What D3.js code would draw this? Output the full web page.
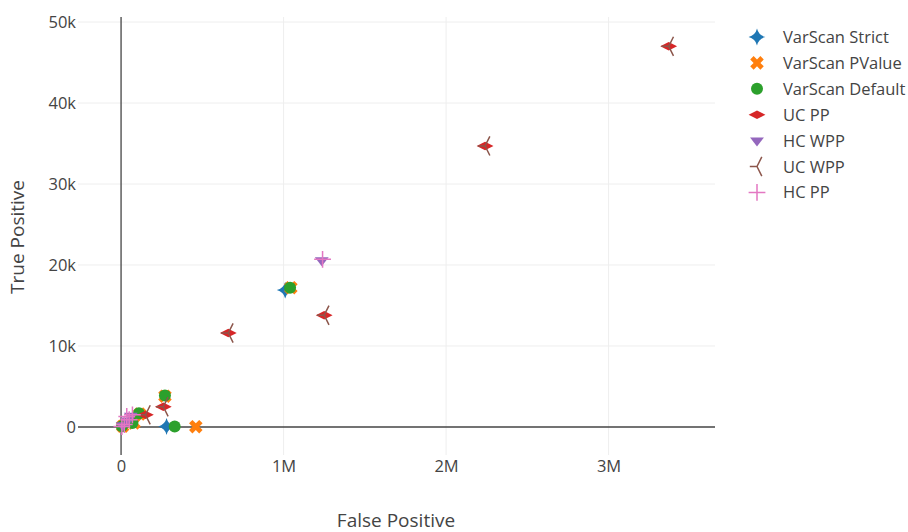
<!DOCTYPE html>
<html>
<head>
<meta charset="utf-8">
<script src="https://cdn.jsdelivr.net/npm/d3@7"></script>
<style>
  html, body { margin: 0; padding: 0; background: #fff; }
  svg { display: block; font-family: "Open Sans", "DejaVu Sans", sans-serif; }
</style>
</head>
<body>
<svg id="chart" width="908" height="532"></svg>
<script>
// Series: false positives vs true positives for each caller configuration
const seriesNames = ["VarScan Strict", "VarScan PValue", "VarScan Default", "UC PP", "HC WPP", "UC WPP", "HC PP"];
const seriesColors = ["#1f77b4", "#ff7f0e", "#2ca02c", "#d62728", "#9467bd", "#8c564b", "#e377c2"];
const seriesSymbols = ["star-diamond", "x", "circle", "diamond-wide", "triangle-down", "tri-left", "cross-thin"];

const varscanStrictFP = [1010000, 280000, 20000, 60000, 90000];
const varscanStrictTP = [16900, 60, 300, 700, 1100];
const varscanPvalueFP = [1045000, 460000, 270000, 10000, 80000, 115000];
const varscanPvalueTP = [17200, 30, 3800, 100, 500, 1600];
const varscanDefaultFP = [1040000, 330000, 270000, 5000, 70000, 110000];
const varscanDefaultTP = [17200, 50, 3900, 80, 500, 1700];
const ucPpFP = [3370000, 2240000, 1250000, 660000, 260000, 150000];
const ucPpTP = [47000, 34700, 13800, 11600, 2500, 1500];
const hcWppFP = [1235000, 40000, 60000, 10000];
const hcWppTP = [20600, 800, 1400, 200];
const ucWppFP = [3370000, 2240000, 1250000, 660000, 260000, 150000];
const ucWppTP = [47000, 34700, 13800, 11600, 2500, 1500];
const hcPpFP = [1240000, 50000, 70000, 20000, 5000, 35000];
const hcPpTP = [20700, 900, 1500, 300, 50, 1300];

const xTicks = [0, 1e6, 2e6, 3e6];
const xTickLabels = ["0", "1M", "2M", "3M"];
const yTicks = [0, 10000, 20000, 30000, 40000, 50000];
const yTickLabels = ["0", "10k", "20k", "30k", "40k", "50k"];

const seriesFP = [varscanStrictFP, varscanPvalueFP, varscanDefaultFP, ucPpFP, hcWppFP, ucWppFP, hcPpFP];
const seriesTP = [varscanStrictTP, varscanPvalueTP, varscanDefaultTP, ucPpTP, hcWppTP, ucWppTP, hcPpTP];

const series = seriesNames.map((name, i) => ({
  name, color: seriesColors[i], symbol: seriesSymbols[i],
  points: seriesFP[i].map((fp, j) => ({ fp, tp: seriesTP[i][j] }))
}));

const r2 = v => Math.round(v * 100) / 100;
// Marker shapes, r = half of the marker size
const symbolPath = {
  "star-diamond": r => {
    const rc = r2(r * 1.4), a = r2(r * 1.9);
    const b = ` A ${a},${a} 0 0 1 `;
    return `M-${rc},0${b}0,${rc}${b}${rc},0${b}0,-${rc}${b}-${rc},0Z`;
  },
  "x": r => {
    const rx = r2(r * 0.8 / Math.SQRT2);
    const ne = `l${rx},${rx}`, se = `l${rx},-${rx}`, sw = `l-${rx},-${rx}`, nw = `l-${rx},${rx}`;
    return `M0,${rx}` + ne + se + sw + se + sw + nw + sw + nw + ne + nw + ne + "Z";
  },
  "circle": r => {
    const rs = r2(r);
    return `M${rs},0A${rs},${rs} 0 1,1 0,-${rs}A${rs},${rs} 0 0,1 ${rs},0Z`;
  },
  "diamond-wide": r => {
    const rt = r2(r * 1.4), rs = r2(r * 0.7);
    return `M0,${rs}L${rt},0L0,-${rs}L-${rt},0Z`;
  },
  "triangle-down": r => {
    const rt = r2(r * 2 / Math.sqrt(3)), h = r2(r / 2), rs = r2(r);
    return `M-${rt},-${h}H${rt}L0,${rs}Z`;
  },
  "tri-left": r => {
    const a = r2(r * 1.2), b = r2(r * 1.6), c = r2(r * 0.8);
    return `M-${a},0H0M${c},-${b}L0,0M${c},${b}L0,0`;
  },
  "cross-thin": r => {
    const rc = r2(r * 1.4);
    return `M0,${rc}V-${rc}M${rc},0H-${rc}`;
  }
};
const openSymbols = new Set(["tri-left", "cross-thin"]);

const svg = d3.select("#chart");
const plot = { left: 78, right: 715, top: 17, bottom: 455 };

const x = d3.scaleLinear().domain([-265000, 3655000]).range([plot.left, plot.right]);
const y = d3.scaleLinear().domain([-3460, 50620]).range([plot.bottom, plot.top]);

// Grid
const grid = svg.append("g");
grid.selectAll("line.gx").data(xTicks.filter(d => d !== 0)).join("line")
  .attr("x1", d => x(d)).attr("x2", d => x(d))
  .attr("y1", plot.top).attr("y2", plot.bottom)
  .attr("stroke", "#eeeeee").attr("stroke-width", 1);
grid.selectAll("line.gy").data(yTicks.filter(d => d !== 0)).join("line")
  .attr("x1", plot.left).attr("x2", plot.right)
  .attr("y1", d => y(d)).attr("y2", d => y(d))
  .attr("stroke", "#eeeeee").attr("stroke-width", 1);

// Zero lines
svg.append("line").attr("x1", x(0)).attr("x2", x(0)).attr("y1", plot.top).attr("y2", plot.bottom)
  .attr("stroke", "#444").attr("stroke-width", 1.3);
svg.append("line").attr("x1", plot.left).attr("x2", plot.right).attr("y1", y(0)).attr("y2", y(0))
  .attr("stroke", "#444").attr("stroke-width", 1.3);

// Axes
const xAxis = d3.axisBottom(x).tickValues(xTicks).tickFormat((d, i) => xTickLabels[i]).tickSize(0).tickPadding(0);
const xg = svg.append("g").attr("transform", `translate(0,${plot.bottom + 5})`).call(xAxis);
const yAxis = d3.axisLeft(y).tickValues(yTicks).tickFormat((d, i) => yTickLabels[i]).tickSize(0).tickPadding(2);
const yg = svg.append("g").attr("transform", `translate(${plot.left},0)`).call(yAxis);
[xg, yg].forEach(g => {
  g.select(".domain").remove();
  g.selectAll("text").attr("fill", "#444").style("font-size", "16.5px").style("font-family", "'Open Sans', sans-serif");
});

// Axis titles
svg.append("text").attr("x", 396).attr("y", 527)
  .attr("text-anchor", "middle").attr("fill", "#444").style("font-size", "19px")
  .text("False Positive");
svg.append("text").attr("transform", `translate(24,237) rotate(-90)`)
  .attr("text-anchor", "middle").attr("fill", "#444").style("font-size", "19px")
  .text("True Positive");

// Markers
const markerR = 6;
function drawSymbol(sel, s) {
  const open = openSymbols.has(s.symbol);
  sel.attr("d", symbolPath[s.symbol](markerR))
    .attr("fill", open ? "none" : s.color)
    .attr("stroke", open ? s.color : "none")
    .attr("stroke-width", open ? 1.5 : 0);
}
const marks = svg.append("g");
series.forEach(s => {
  marks.append("g").selectAll("path").data(s.points).join("path")
    .attr("transform", d => `translate(${x(d.fp)},${y(d.tp)})`)
    .call(sel => drawSymbol(sel, s));
});

// Legend
const legend = svg.append("g").attr("transform", "translate(757,37)");
series.forEach((s, i) => {
  const row = legend.append("g").attr("transform", `translate(0,${i * 25.9})`);
  row.append("path").call(sel => drawSymbol(sel, s));
  row.append("text").attr("x", 26).attr("y", 6).attr("fill", "#444")
    .style("font-size", "16.5px").text(s.name);
});
</script>
</body>
</html>
